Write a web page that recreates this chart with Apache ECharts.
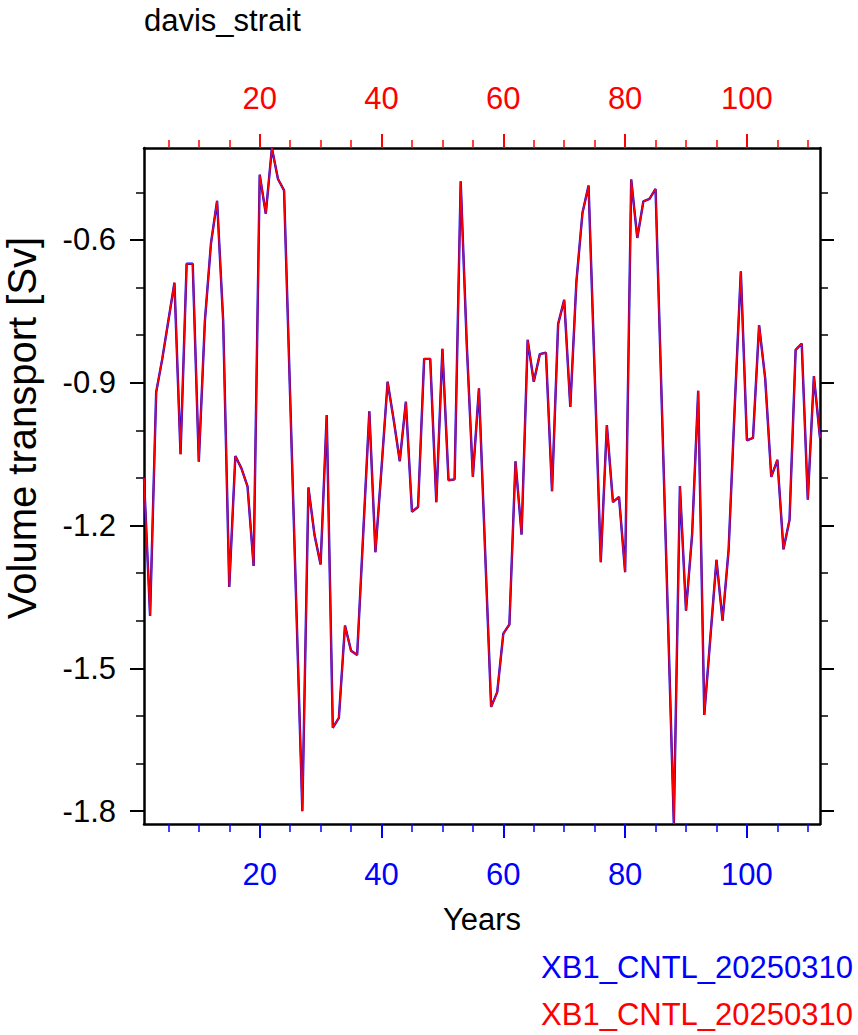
<!DOCTYPE html>
<html>
<head>
<meta charset="utf-8">
<script src="https://cdn.jsdelivr.net/npm/echarts@6/dist/echarts.min.js"></script>
<style>
html,body{margin:0;padding:0;background:#fff;}
#c{width:858px;height:1035px;}
</style>
</head>
<body>
<div id="c"></div>
<script>
// ---- data ----
const years = [];
for (let i = 1; i <= 112; i++) years.push(i);
const transport = [
 -1.10,-1.39,-0.92,-0.85,-0.77,-0.69,-1.05,-0.65,-0.65,-1.066,
 -0.77,-0.607,-0.518,-0.77,-1.329,-1.054,-1.08,-1.118,-1.285,-0.463,
 -0.545,-0.407,-0.472,-0.496,-0.93,-1.365,-1.80,-1.12,-1.22,-1.282,
 -0.968,-1.625,-1.604,-1.41,-1.463,-1.472,-1.216,-0.96,-1.256,-1.08,
 -0.898,-0.978,-1.065,-0.94,-1.171,-1.161,-0.85,-0.85,-1.151,-0.829,
 -1.105,-1.103,-0.477,-0.82,-1.098,-0.912,-1.25,-1.581,-1.55,-1.427,
 -1.408,-1.065,-1.219,-0.81,-0.898,-0.84,-0.837,-1.128,-0.777,-0.726,
 -0.951,-0.688,-0.543,-0.486,-0.88,-1.277,-0.989,-1.151,-1.14,-1.298,
 -0.473,-0.596,-0.519,-0.514,-0.493,-0.936,-1.38,-1.827,-1.117,-1.379,
 -1.219,-0.917,-1.598,-1.435,-1.272,-1.4,-1.25,-0.95,-0.666,-1.021,
 -1.016,-0.779,-0.891,-1.098,-1.062,-1.25,-1.188,-0.831,-0.818,-1.146,
 -0.886,-1.016
];
const seriesNames = ['XB1_CNTL_20250310', 'XB1_CNTL_20250310'];
const xMajorTicks = [20, 40, 60, 80, 100];
const xMinorTicks = [5, 10, 15, 25, 30, 35, 45, 50, 55, 65, 70, 75, 85, 90, 95, 105, 110];
const yMajorTicks = [-1.8, -1.5, -1.2, -0.9, -0.6];
const yMinorTicks = [-1.7, -1.6, -1.4, -1.3, -1.1, -1.0, -0.8, -0.7, -0.5];
const titleText = 'davis_strait';
const xTitle = 'Years';
const yTitle = 'Volume transport [Sv]';

const FONT = 'Liberation Sans';
const FS = 31;
const XMIN = 1, XMAX = 112, YMIN = -1.827, YMAX = -0.407;
const pts = years.map((y, i) => [y, transport[i]]);

function xAx(pos, major, color, margin) {
  return {
    type: 'value', position: pos, min: XMIN, max: XMAX,
    axisLine: { show: major, lineStyle: { color: '#000', width: 2.5 } },
    axisTick: { show: true, inside: false, length: major ? 14 : 8,
      customValues: major ? xMajorTicks : xMinorTicks,
      lineStyle: { color: color, width: major ? 2 : 1.5 } },
    axisLabel: { show: major, customValues: xMajorTicks, color: color,
      fontFamily: FONT, fontSize: FS, margin: margin },
    splitLine: { show: false }
  };
}
function yAx(pos, major, label) {
  return {
    type: 'value', position: pos, min: YMIN, max: YMAX,
    axisLine: { show: major, lineStyle: { color: '#000', width: 2.5 } },
    axisTick: { show: true, inside: false, length: major ? 14 : 8,
      customValues: major ? yMajorTicks : yMinorTicks,
      lineStyle: { color: '#000', width: major ? 2 : 1.5 } },
    axisLabel: { show: label, customValues: yMajorTicks, color: '#000',
      fontFamily: FONT, fontSize: FS, margin: 28 },
    splitLine: { show: false }
  };
}

const xBottom = xAx('bottom', true, '#0000ff', 35);
xBottom.name = xTitle;
xBottom.nameLocation = 'middle';
xBottom.nameGap = 80;
xBottom.nameTextStyle = { fontFamily: FONT, fontSize: FS, color: '#000' };

const chart = echarts.init(document.getElementById('c'), null, { renderer: 'svg' });
chart.setOption({
  animation: false,
  backgroundColor: '#fff',
  title: [
    { text: titleText, left: 139, top: 0, textStyle: { fontFamily: FONT, fontSize: FS, fontWeight: 'normal', color: '#000' } },
    { text: seriesNames[0], right: 0, top: 947, textStyle: { fontFamily: FONT, fontSize: FS, fontWeight: 'normal', color: '#0000ff' } },
    { text: seriesNames[1], right: 0, top: 994, textStyle: { fontFamily: FONT, fontSize: FS, fontWeight: 'normal', color: '#ff0000' } }
  ],
  grid: { left: 144, top: 148, width: 676, height: 676, containLabel: false },
  xAxis: [
    xBottom,
    xAx('bottom', false, '#0000ff', 35),
    xAx('top', true, '#ff0000', 34),
    xAx('top', false, '#ff0000', 34)
  ],
  yAxis: [
    yAx('left', true, true),
    yAx('left', false, false),
    yAx('right', true, false),
    yAx('right', false, false)
  ],
  graphic: [
    { type: 'text', x: 22, y: 428, rotation: Math.PI / 2,
      style: { text: yTitle, fontFamily: FONT, fontSize: 40, fill: '#000',
        align: 'center', verticalAlign: 'middle' } }
  ],
  series: [
    { name: seriesNames[0], type: 'line', xAxisIndex: 0, yAxisIndex: 0, data: pts,
      symbol: 'none', lineStyle: { color: '#0000ff', width: 2.4 }, z: 2 },
    { name: seriesNames[1], type: 'line', xAxisIndex: 0, yAxisIndex: 0, data: pts,
      symbol: 'none', lineStyle: { color: '#ff0000', width: 1.6 }, z: 3 }
  ]
});
</script>
</body>
</html>
